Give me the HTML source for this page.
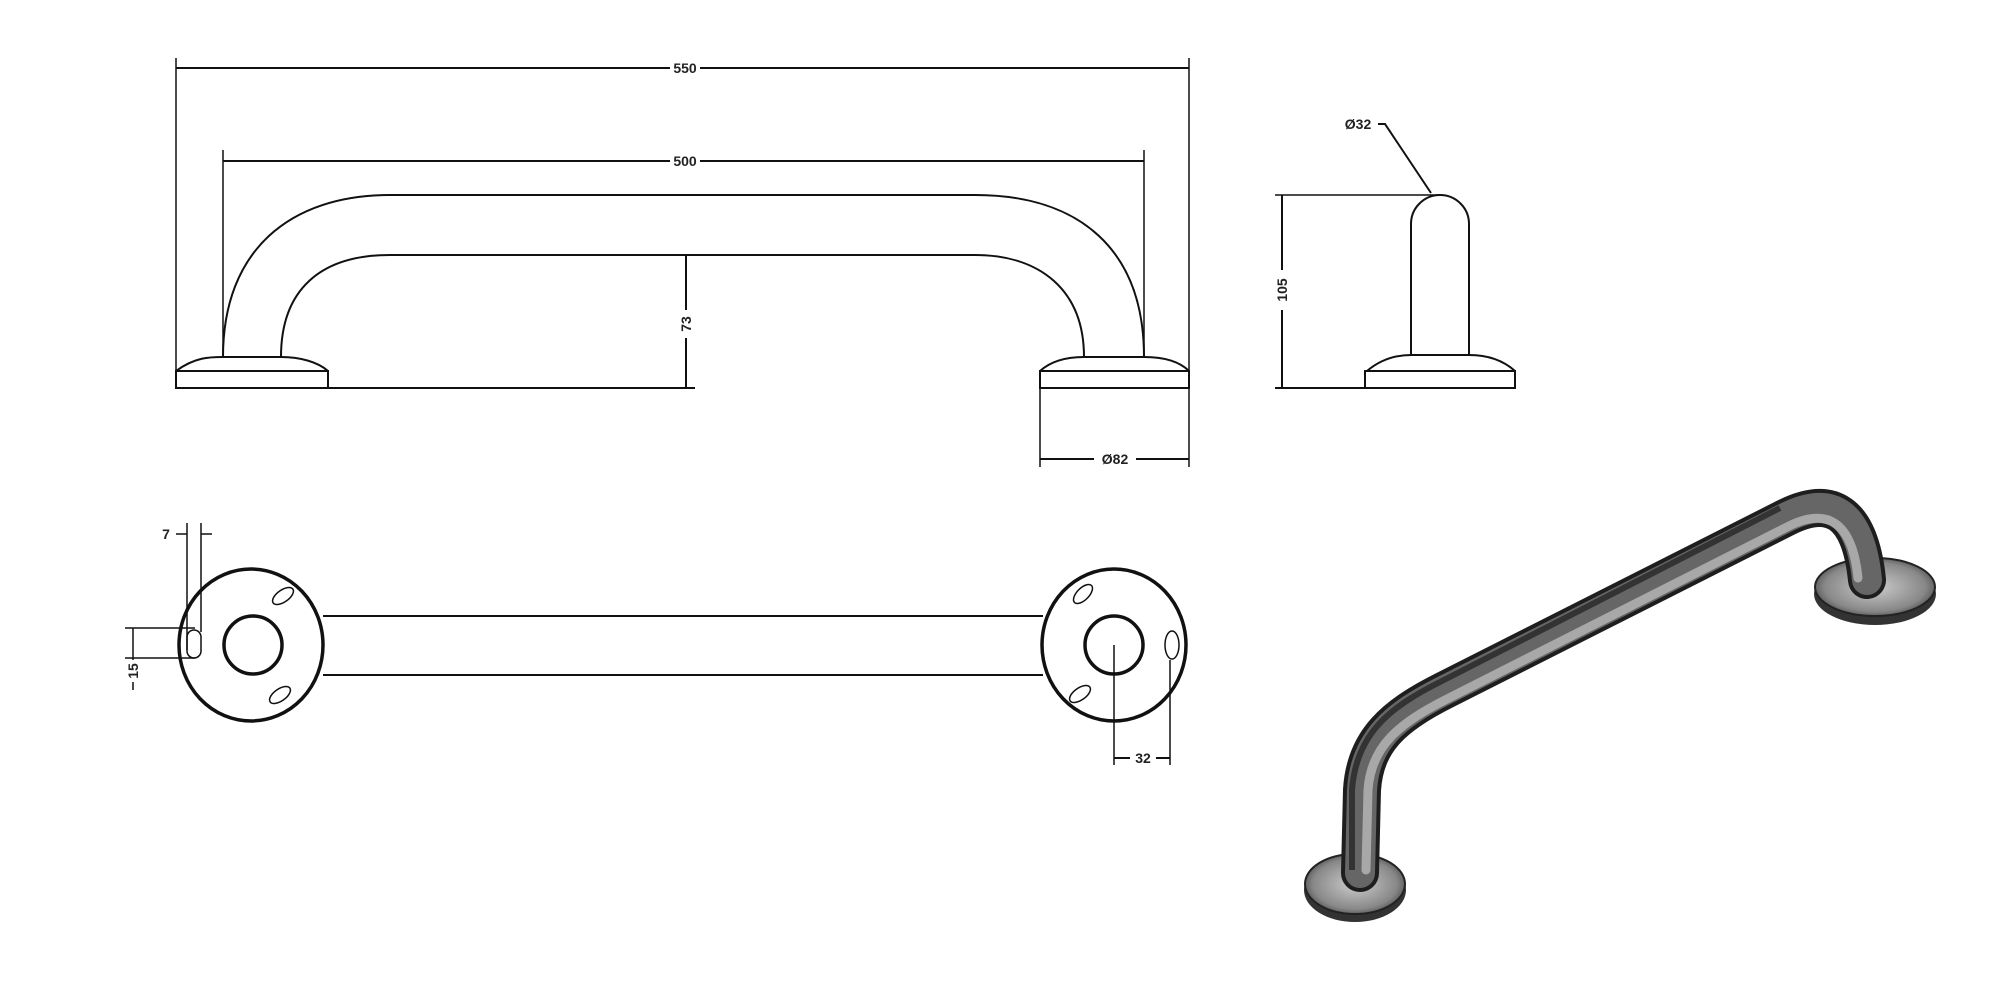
<!DOCTYPE html>
<html><head><meta charset="utf-8"><style>
html,body{margin:0;padding:0;background:#fff;}
svg{display:block;}
text{font-family:"Liberation Sans",sans-serif;font-size:14px;fill:#222;font-weight:bold;}
</style></head><body>
<svg width="2000" height="1000" viewBox="0 0 2000 1000" xmlns="http://www.w3.org/2000/svg">
<defs>
<radialGradient id="base" cx="0.5" cy="0.5" r="0.6">
<stop offset="0" stop-color="#ccc"/><stop offset="0.7" stop-color="#888"/><stop offset="1" stop-color="#333"/>
</radialGradient>
</defs>
<g fill="none" stroke="#111" stroke-width="2">
<line x1="176" y1="58" x2="176" y2="388" stroke-width="1.5"/>
<line x1="1189" y1="58" x2="1189" y2="467" stroke-width="1.5"/>
<line x1="176" y1="68" x2="670" y2="68"/><line x1="700" y1="68" x2="1189" y2="68"/>
<line x1="223" y1="150" x2="223" y2="357" stroke-width="1.5"/>
<line x1="1144" y1="150" x2="1144" y2="357" stroke-width="1.5"/>
<line x1="223" y1="161" x2="670" y2="161"/><line x1="700" y1="161" x2="1144" y2="161"/>
<path d="M223 357 C223 250 290 195 390 195 L975 195 C1080 195 1144 250 1144 357"/>
<path d="M281 357 C281 290 320 255 390 255 L975 255 C1040 255 1084 290 1084 357"/>
<path d="M176 371 C195 357 210 357 223 357 L281 357 C300 357 318 362 328 371"/>
<rect x="176" y="371" width="152" height="17"/>
<path d="M1040 371 C1050 362 1065 357 1084 357 L1144 357 C1165 357 1180 362 1189 371"/>
<rect x="1040" y="371" width="149" height="17"/>
<line x1="176" y1="388" x2="695" y2="388"/>
<line x1="686" y1="255" x2="686" y2="310"/><line x1="686" y1="338" x2="686" y2="388"/>
<line x1="1040" y1="388" x2="1040" y2="467" stroke-width="1.5"/>
<line x1="1040" y1="459" x2="1094" y2="459"/><line x1="1136" y1="459" x2="1189" y2="459"/>
<line x1="1275" y1="195" x2="1440" y2="195" stroke-width="1.5"/>
<line x1="1282" y1="195" x2="1282" y2="270"/><line x1="1282" y1="310" x2="1282" y2="388"/>
<line x1="1275" y1="388" x2="1367" y2="388"/>
<path d="M1411 355 L1411 224 A29 29 0 0 1 1469 224 L1469 355"/>
<path d="M1367 371 C1380 360 1395 355 1411 355 L1469 355 C1490 355 1505 362 1515 371"/>
<rect x="1365" y="371" width="150" height="17"/>
<path d="M1378 124 L1385 124 L1431 193"/>
<ellipse cx="251" cy="645" rx="72" ry="76" stroke-width="3.5"/>
<circle cx="253" cy="645" r="29" stroke-width="3.5"/>
<ellipse cx="283" cy="596" rx="12" ry="6" transform="rotate(-35 283 596)" stroke-width="1.5"/>
<ellipse cx="280" cy="695" rx="12" ry="6" transform="rotate(-35 280 695)" stroke-width="1.5"/>
<rect x="187" y="630" width="14" height="28" rx="7" stroke-width="1.5"/>
<ellipse cx="1114" cy="645" rx="72" ry="76" stroke-width="3.5"/>
<circle cx="1114" cy="645" r="29" stroke-width="3.5"/>
<ellipse cx="1083" cy="594" rx="12" ry="6" transform="rotate(-45 1083 594)" stroke-width="1.5"/>
<ellipse cx="1080" cy="694" rx="12" ry="6" transform="rotate(-35 1080 694)" stroke-width="1.5"/>
<ellipse cx="1172" cy="645" rx="7" ry="14" stroke-width="1.5"/>
<line x1="323" y1="616" x2="1043" y2="616"/><line x1="323" y1="675" x2="1043" y2="675"/>
<line x1="187" y1="523" x2="187" y2="650" stroke-width="1.5"/>
<line x1="201" y1="523" x2="201" y2="632" stroke-width="1.5"/>
<line x1="176" y1="534" x2="187" y2="534" stroke-width="1.5"/><line x1="201" y1="534" x2="212" y2="534" stroke-width="1.5"/>
<line x1="125" y1="628" x2="195" y2="628" stroke-width="1.5"/><line x1="125" y1="658" x2="195" y2="658" stroke-width="1.5"/>
<line x1="133" y1="628" x2="133" y2="660" stroke-width="1.5"/><line x1="133" y1="682" x2="133" y2="690" stroke-width="1.5"/>
<line x1="1114" y1="645" x2="1114" y2="765" stroke-width="1.5"/>
<line x1="1170" y1="660" x2="1170" y2="765" stroke-width="1.5"/>
<line x1="1114" y1="758" x2="1130" y2="758"/><line x1="1156" y1="758" x2="1170" y2="758"/>
</g>
<text x="685" y="73" text-anchor="middle">550</text>
<text x="685" y="166" text-anchor="middle">500</text>
<text transform="translate(691 324) rotate(-90)" text-anchor="middle">73</text>
<text x="1115" y="464" text-anchor="middle">Ø82</text>
<text transform="translate(1287 290) rotate(-90)" text-anchor="middle">105</text>
<text x="1358" y="129" text-anchor="middle">Ø32</text>
<text x="166" y="539" text-anchor="middle">7</text>
<text transform="translate(138 671) rotate(-90)" text-anchor="middle">15</text>
<text x="1143" y="763" text-anchor="middle">32</text>
<ellipse cx="1355" cy="890" rx="51" ry="32" fill="#333"/>
<ellipse cx="1355" cy="884" rx="50" ry="30" fill="url(#base)" stroke="#222" stroke-width="2"/>
<ellipse cx="1875" cy="594" rx="61" ry="31" fill="#333"/>
<ellipse cx="1875" cy="587" rx="60" ry="29" fill="url(#base)" stroke="#222" stroke-width="2"/>
<path d="M1360 873 L1362 790 C1365 740 1395 715 1445 690 L1785 518 C1830 495 1860 510 1867 580" fill="none" stroke="#1e1e1e" stroke-width="38" stroke-linecap="round"/>
<path d="M1360 873 L1362 790 C1365 740 1395 715 1445 690 L1785 518 C1830 495 1860 510 1867 580" fill="none" stroke="#666" stroke-width="30" stroke-linecap="round"/>
<path d="M1366 870 L1368 790 C1371 746 1399 723 1449 698 L1789 526 C1826 508 1852 520 1858 578" fill="none" stroke="#a8a8a8" stroke-width="9" stroke-linecap="round"/>
<path d="M1352 870 L1352 790 C1356 735 1388 708 1440 682 L1780 508" fill="none" stroke="#333" stroke-width="6"/>
</svg>
</body></html>
